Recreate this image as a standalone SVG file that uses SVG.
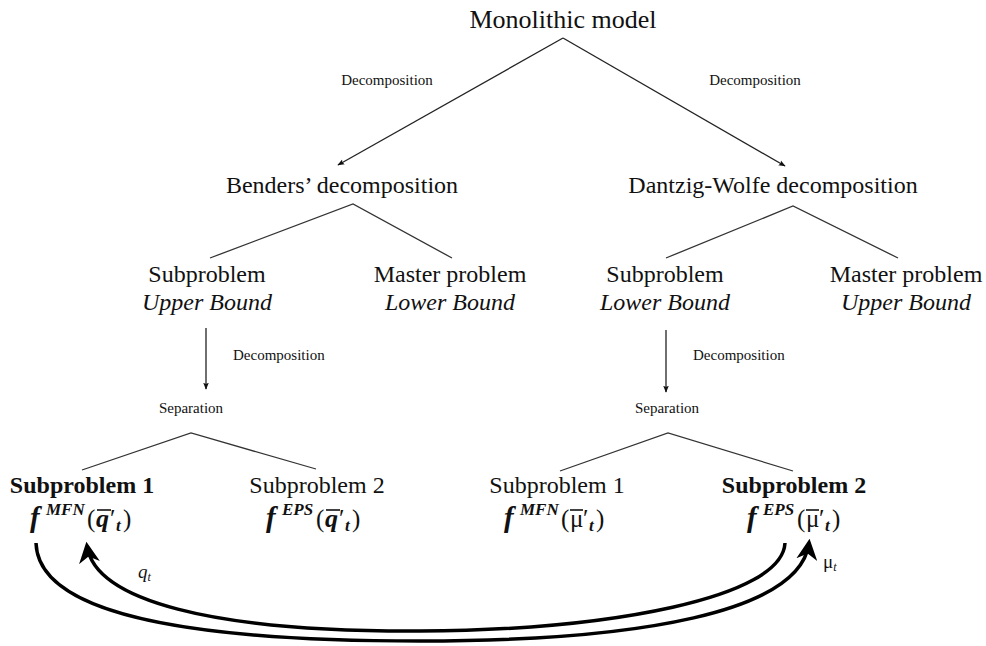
<svg xmlns="http://www.w3.org/2000/svg" width="986" height="646" viewBox="0 0 986 646" font-family="'Liberation Serif', 'DejaVu Serif', serif">
  <defs>
    <marker id="tip" viewBox="0 0 10 10" refX="9" refY="5" markerWidth="7" markerHeight="7" orient="auto" markerUnits="userSpaceOnUse">
      <path d="M0,1 L10,5 L0,9 L2,5 z" fill="#111"/>
    </marker>
    <marker id="bigtip" viewBox="0 0 10 10" refX="8" refY="5" markerWidth="6" markerHeight="6" orient="auto" markerUnits="strokeWidth">
      <path d="M0,0 L10,5 L0,10 L3,5 z" fill="#000"/>
    </marker>
  </defs>
  <style>
    text { fill: #111; }
    .big { font-size: 26px; }
    .mid { font-size: 24px; }
    .lbl { font-size: 15px; }
    .it { font-style: italic; }
    .bold { font-weight: bold; }
    .fx { font-weight: bold; font-style: italic; font-size: 29px; }
    .q { font-weight: bold; font-style: italic; font-size: 26px; }
    .sup { font-weight: bold; font-style: italic; font-size: 17px; }
    .up { font-style: normal; font-weight: normal; font-size: 25px; }
    .tree { stroke: #333; stroke-width: 1.3; fill: none; }
    .arr { stroke: #222; stroke-width: 1.3; fill: none; marker-end: url(#tip); }
    .loop { stroke: #000; stroke-width: 3.5; fill: none; marker-end: url(#bigtip); }
    .bar { stroke: #111; stroke-width: 1.6; }
  </style>
  <rect width="986" height="646" fill="#fff"/>

  <g id="connectors">
    <line class="arr" x1="563" y1="38" x2="338" y2="165"/>
    <line class="arr" x1="563" y1="38" x2="785" y2="166"/>
    <polyline class="tree" points="210,258 353,204 452,258"/>
    <polyline class="tree" points="666,258 793,206 898,258"/>
    <line class="arr" x1="206" y1="328" x2="206" y2="389"/>
    <line class="arr" x1="666" y1="330" x2="666" y2="392"/>
    <polyline class="tree" points="82,470 191,433 316,469"/>
    <polyline class="tree" points="560,471 668,433 793,471"/>
    <path class="loop" d="M36,543 C38,610 170,641 420,641 C640,641 800,612 809,543"/>
    <path class="loop" d="M785,543 C782,598 610,630 420,631 C210,632 95,600 87,546"/>
  </g>

  <g id="monolithic"><text class="big" x="563" y="28" text-anchor="middle">Monolithic model</text></g>
  <g id="dec-left"><text class="lbl" x="387" y="85" text-anchor="middle">Decomposition</text></g>
  <g id="dec-right"><text class="lbl" x="755" y="85" text-anchor="middle">Decomposition</text></g>
  <g id="benders"><text class="mid" x="342" y="193" text-anchor="middle">Benders’ decomposition</text></g>
  <g id="dantzig"><text class="mid" x="773" y="193" text-anchor="middle">Dantzig-Wolfe decomposition</text></g>

  <g id="b-sub">
    <text class="mid" x="207" y="282" text-anchor="middle">Subproblem</text>
    <text class="mid it" x="207" y="310" text-anchor="middle">Upper Bound</text>
  </g>
  <g id="b-master">
    <text class="mid" x="450" y="282" text-anchor="middle">Master problem</text>
    <text class="mid it" x="450" y="310" text-anchor="middle">Lower Bound</text>
  </g>
  <g id="d-sub">
    <text class="mid" x="665" y="282" text-anchor="middle">Subproblem</text>
    <text class="mid it" x="665" y="310" text-anchor="middle">Lower Bound</text>
  </g>
  <g id="d-master">
    <text class="mid" x="906" y="282" text-anchor="middle">Master problem</text>
    <text class="mid it" x="906" y="310" text-anchor="middle">Upper Bound</text>
  </g>

  <g id="b-dec"><text class="lbl" x="233" y="360">Decomposition</text></g>
  <g id="d-dec"><text class="lbl" x="693" y="360">Decomposition</text></g>
  <g id="b-sep"><text class="lbl" x="191" y="413" text-anchor="middle">Separation</text></g>
  <g id="d-sep"><text class="lbl" x="667" y="413" text-anchor="middle">Separation</text></g>

  <!-- bottom row: titles with their objective functions -->
  <g id="b-sp1">
    <text class="mid bold" x="82" y="493" text-anchor="middle">Subproblem 1</text>
    <text y="527"><tspan class="fx" x="30">f</tspan><tspan class="sup" x="46" y="515">MFN</tspan><tspan class="up" x="87" y="527">(</tspan><tspan class="q" x="96">q</tspan><tspan class="up" x="110">′</tspan><tspan class="sup" x="116" y="531">t</tspan><tspan class="up" x="123" y="527">)</tspan></text>
    <line class="bar" x1="97" y1="510" x2="111" y2="510"/>
  </g>
  <g id="b-sp2">
    <text class="mid" x="317" y="493" text-anchor="middle">Subproblem 2</text>
    <text y="527"><tspan class="fx" x="266">f</tspan><tspan class="sup" x="282" y="515">EPS</tspan><tspan class="up" x="316" y="527">(</tspan><tspan class="q" x="325">q</tspan><tspan class="up" x="339">′</tspan><tspan class="sup" x="345" y="531">t</tspan><tspan class="up" x="352" y="527">)</tspan></text>
    <line class="bar" x1="326" y1="510" x2="340" y2="510"/>
  </g>
  <g id="d-sp1">
    <text class="mid" x="557" y="493" text-anchor="middle">Subproblem 1</text>
    <text y="527"><tspan class="fx" x="504">f</tspan><tspan class="sup" x="520" y="515">MFN</tspan><tspan class="up" x="561" y="527">(</tspan><tspan class="up" x="570">μ</tspan><tspan class="up" x="583">′</tspan><tspan class="sup" x="589" y="531">t</tspan><tspan class="up" x="596" y="527">)</tspan></text>
    <line class="bar" x1="570" y1="510" x2="583" y2="510"/>
  </g>
  <g id="d-sp2">
    <text class="mid bold" x="794" y="493" text-anchor="middle">Subproblem 2</text>
    <text y="527"><tspan class="fx" x="747">f</tspan><tspan class="sup" x="763" y="515">EPS</tspan><tspan class="up" x="797" y="527">(</tspan><tspan class="up" x="806">μ</tspan><tspan class="up" x="819">′</tspan><tspan class="sup" x="825" y="531">t</tspan><tspan class="up" x="832" y="527">)</tspan></text>
    <line class="bar" x1="806" y1="510" x2="819" y2="510"/>
  </g>

  <g id="q-label"><text x="138" y="578" font-size="19" font-style="italic">q<tspan font-size="12" dy="3">t</tspan></text></g>
  <g id="mu-label"><text x="823" y="568" font-size="19">μ<tspan font-size="12" font-style="italic" dy="3">t</tspan></text></g>
</svg>
